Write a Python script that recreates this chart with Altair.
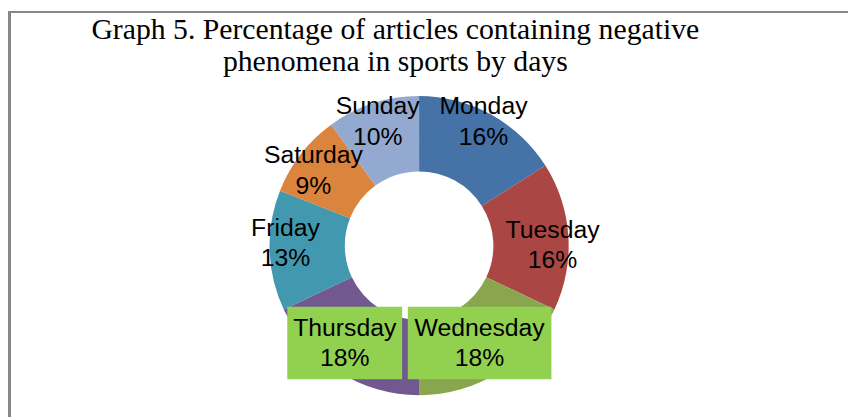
import altair as alt
import pandas as pd

DAYS = ["Monday", "Tuesday", "Wednesday", "Thursday", "Friday", "Saturday", "Sunday"]
PCT = [16, 16, 18, 18, 13, 9, 10]
COLORS = ["#4572A7", "#AA4643", "#89A54E", "#71588F", "#4198AF", "#DB843D", "#93A9CF"]
TITLE = ["Graph 5. Percentage of articles containing negative",
         "phenomena in sports by days"]
BOXED = ["Wednesday", "Thursday"]

W, H = 848, 411
CX, CY = 415, 238
R_OUT, R_IN = 151, 75
LINE_H = 31

# label layout nudges (pixels), mimicking the manual placement in the original
NUDGE_X = {"Thursday": -14}
NUDGE_Y = {"Monday": -7, "Tuesday": 8, "Wednesday": 2, "Thursday": 2,
           "Friday": -7, "Saturday": 7, "Sunday": 3}


def nudge_expr(d):
    expr = "0"
    for k, v in d.items():
        expr = f"(datum.day == '{k}' ? {v} : {expr})"
    return expr


df = pd.DataFrame({"day": DAYS, "pct": PCT})

base = (
    alt.Chart(df)
    .transform_window(idx="row_number()", cum="sum(pct)", frame=[None, 0])
    .transform_joinaggregate(total="sum(pct)")
    .transform_calculate(mid="2*PI*(datum.cum - datum.pct/2)/datum.total")
    .transform_calculate(
        r="(datum.day == 'Wednesday' || datum.day == 'Thursday') ? 114 : 135"
    )
    .transform_calculate(
        lx=f"{CX} + datum.r*sin(datum.mid) + {nudge_expr(NUDGE_X)}",
        ly=f"{CY} - datum.r*cos(datum.mid) + {nudge_expr(NUDGE_Y)}",
        label="datum.day + '\\n' + datum.pct + '%'",
    )
    .transform_calculate(ty=f"datum.ly - {LINE_H / 2}")
)

arcs = base.mark_arc(outerRadius=R_OUT, innerRadius=R_IN).encode(
    theta=alt.Theta("pct:Q", stack=True),
    color=alt.Color("day:N", scale=alt.Scale(domain=DAYS, range=COLORS), legend=None),
    order=alt.Order("idx:Q"),
    x=alt.value(CX),
    y=alt.value(CY),
)

boxes = (
    base.transform_filter(alt.FieldOneOfPredicate(field="day", oneOf=BOXED))
    .transform_calculate(bw="datum.day == 'Wednesday' ? 145 : 116")
    .transform_calculate(
        bx1="datum.lx - datum.bw/2",
        bx2="datum.lx + datum.bw/2",
        by1="datum.ly - 36.5",
        by2="datum.ly + 36.5",
    )
    .mark_rect(color="#92D050")
    .encode(
        x=alt.X("bx1:Q", scale=None, axis=None),
        x2="bx2:Q",
        y=alt.Y("by1:Q", scale=None, axis=None),
        y2="by2:Q",
    )
)

labels = base.mark_text(
    font="Liberation Sans", fontSize=25, lineBreak="\n", lineHeight=LINE_H,
    baseline="middle", align="center", color="black",
).encode(
    x=alt.X("lx:Q", scale=None, axis=None),
    y=alt.Y("ty:Q", scale=None, axis=None),
    text="label:N",
)

title = alt.Chart(pd.DataFrame({"t": ["\n".join(TITLE)]})).mark_text(
    font="Liberation Serif", fontSize=30, lineBreak="\n", lineHeight=33,
    baseline="alphabetic", align="center", color="black",
).encode(text="t:N", x=alt.value(391), y=alt.value(29))

frame_left = alt.Chart(df).mark_rule(color="#878787", strokeWidth=3).encode(
    x=alt.value(1.5), y=alt.value(1), y2=alt.value(H)
)
frame_top = alt.Chart(df).mark_rule(color="#878787", strokeWidth=2).encode(
    x=alt.value(0), x2=alt.value(W), y=alt.value(2)
)

chart = (
    alt.layer(arcs, boxes, labels, title, frame_left, frame_top)
    .properties(width=W, height=H, padding=0, autosize="none")
    .configure_view(stroke=None)
)

chart.save("out.html", embed_options={"renderer": "svg", "actions": False})
